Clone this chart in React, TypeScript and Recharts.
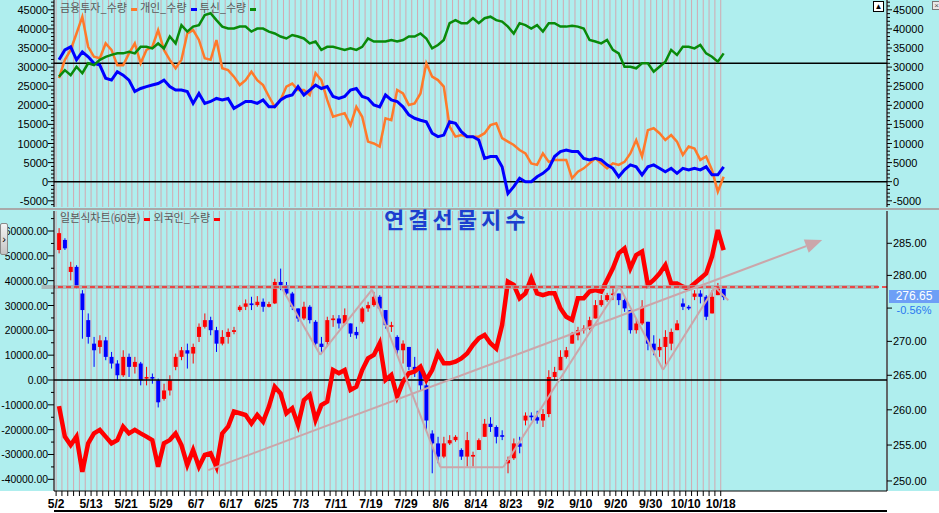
import React from "react";
import { ComposedChart, Line, Bar, XAxis, YAxis, CartesianGrid, ReferenceLine } from "recharts";

// trading days 2019-05-02 .. 2019-10-18
const dates = [
  "5/2", "5/3", "5/7", "5/8", "5/9", "5/10", "5/13", "5/14", "5/15", "5/16", "5/17", "5/20", "5/21", "5/22", "5/23", "5/24", "5/27", "5/28", "5/29", "5/30", "5/31",
  "6/3", "6/4", "6/5", "6/7", "6/10", "6/11", "6/12", "6/13", "6/14", "6/17", "6/18", "6/19", "6/20", "6/21", "6/24", "6/25", "6/26", "6/27", "6/28",
  "7/1", "7/2", "7/3", "7/4", "7/5", "7/8", "7/9", "7/10", "7/11", "7/12", "7/15", "7/16", "7/17", "7/18", "7/19", "7/22", "7/23", "7/24", "7/25", "7/26", "7/29", "7/30", "7/31",
  "8/1", "8/2", "8/5", "8/6", "8/7", "8/8", "8/9", "8/12", "8/13", "8/14", "8/16", "8/19", "8/20", "8/21", "8/22", "8/23", "8/26", "8/27", "8/28", "8/29", "8/30",
  "9/2", "9/3", "9/4", "9/5", "9/6", "9/9", "9/10", "9/11", "9/16", "9/17", "9/18", "9/19", "9/20", "9/23", "9/24", "9/25", "9/26", "9/27", "9/30",
  "10/1", "10/2", "10/4", "10/7", "10/8", "10/10", "10/11", "10/14", "10/15", "10/16", "10/17", "10/18",
];

// 금융투자_수량
const finInvQty = [
  27100, 31900, 34500, 38800, 43200, 35300, 32700, 32300, 36200, 34500,
  30500, 30500, 33600, 36200, 31000, 34500, 35300, 39700, 34500, 31900,
  29700, 31900, 38800, 39700, 37100, 32300, 31900, 37100, 29700, 29200,
  27500, 25300, 26600, 28800, 26600, 25300, 22300, 19600, 21400, 24900,
  25700, 24000, 24000, 22700, 28400, 26600, 21400, 17000, 17500, 17900,
  14800, 19600, 17000, 10500, 10000, 9200, 16600, 16100, 24000, 23100,
  20100, 20500, 23100, 31000, 27500, 26600, 24900, 14400, 11800, 12200,
  11800, 11800, 11800, 12700, 14800, 15300, 11400, 10500, 9600, 8300,
  7400, 4800, 4400, 7400, 5200, 5700, 5700, 5700, 900, 2600,
  3500, 4800, 6100, 4800, 3500, 4800, 4400, 5200, 7400, 10900,
  6600, 13500, 14000, 12700, 10900, 12200, 10500, 7000, 9200, 8700,
  5700, 6600, 3100, -2600, 1300,
];

// 개인_수량
const indivQty = [
  31900, 34500, 35300, 31900, 34000, 32700, 31000, 30500, 27100, 26600,
  28800, 27900, 26600, 23600, 24400, 24900, 25300, 25700, 26600, 24900,
  24000, 24000, 23600, 20500, 23100, 20500, 21000, 21800, 21400, 21800,
  19200, 20100, 21000, 21000, 20500, 21400, 19600, 19600, 21400, 22300,
  22700, 24900, 22700, 24000, 25300, 24400, 24900, 22300, 21800, 22300,
  24000, 24400, 22300, 21800, 20100, 19600, 22700, 21400, 21000, 19600,
  17500, 16600, 16100, 15700, 12700, 11800, 12200, 15700, 15300, 13100,
  11800, 11800, 10900, 6100, 6600, 6600, 3900, -3100, -1300, 900,
  0, 0, 1300, 2200, 3500, 6600, 7900, 8300, 7900, 7900,
  6100, 5700, 6100, 5700, 4400, 3500, 1300, 3100, 4400, 3900,
  1800, 3900, 4400, 3500, 2600, 3500, 2200, 3500, 3100, 3500,
  3100, 3900, 1800, 1800, 3900,
];

// 투신_수량
const trustQty = [
  27500, 29200, 27900, 30100, 28400, 31000, 30500, 31900, 32700, 33200,
  33600, 33600, 34000, 33600, 35300, 35300, 34900, 36200, 34900, 38000,
  36200, 41000, 39300, 40600, 41000, 43600, 44100, 42300, 40600, 40100,
  40100, 40600, 40600, 39300, 40100, 40100, 39300, 38800, 38000, 37500,
  38400, 38000, 37500, 36200, 36700, 34500, 35300, 35300, 34900, 34500,
  34900, 34500, 35300, 37500, 36700, 36700, 36700, 37100, 36700, 37100,
  38000, 38000, 38800, 37500, 34900, 35800, 37100, 41500, 42300, 41500,
  41500, 42800, 41500, 42800, 43200, 42300, 41900, 40600, 38800, 41500,
  41000, 40100, 41000, 39300, 41500, 41500, 40600, 40600, 40800, 40600,
  40100, 37100, 36700, 36200, 37100, 34500, 33600, 30100, 30100, 29700,
  31000, 31000, 28800, 30100, 31400, 34500, 33200, 35300, 35300, 34900,
  35800, 33600, 32700, 31400, 33600,
];

// 외국인_수량
const foreignQty = [
  -10500, -22800, -26200, -22800, -37000, -25500, -21500, -20100, -22800, -25500,
  -24200, -18800, -21500, -20100, -21500, -22800, -24200, -34900, -25500, -24200,
  -21500, -26200, -34200, -28200, -34900, -30200, -29500, -34900, -21500, -18800,
  -12700, -13400, -14100, -17500, -14100, -16800, -10700, -2700, -5400, -13400,
  -11400, -18100, -8100, -6000, -16100, -10100, -8700, 4000, 2700, 4000,
  -4000, -2700, 4000, 8700, 10100, 14800, 0, 2000, -6700, -700,
  2700, 3400, 5400, 0, 4000, 10700, 6700, 6700, 7400, 8700,
  10700, 14100, 16800, 18100, 14800, 12700, 22100, 39600, 38300, 32900,
  34900, 40900, 34900, 34200, 34900, 34900, 28900, 25500, 24200, 32900,
  32900, 35600, 36200, 35600, 40300, 45000, 51000, 53000, 45000, 50300,
  51700, 38300, 40300, 42900, 46300, 38900, 38900, 37600, 36900, 38900,
  40900, 42900, 49700, 60400, 52300,
];

// 연결선물 daily candles
const openPx = [
  283.95, 285.53, 280.53, 281.32, 277.22, 273.18, 269.66, 269.17, 270.15, 267.70,
  266.72, 265.00, 267.70, 266.23, 266.72, 264.51, 264.75, 264.26, 261.57, 262.79,
  266.23, 267.70, 268.68, 268.19, 270.66, 272.17, 273.18, 271.67, 269.66, 270.66,
  271.41, 274.70, 275.20, 275.71, 275.45, 275.96, 275.20, 275.71, 278.99, 278.48,
  277.22, 274.95, 273.43, 275.20, 272.93, 269.66, 269.90, 273.18, 273.43, 272.68,
  272.68, 271.41, 272.93, 274.95, 275.45, 276.72, 274.70, 272.17, 270.66, 268.68,
  269.17, 266.23, 265.74, 263.53, 256.62, 255.23, 253.38, 255.23, 255.69, 254.31,
  253.38, 253.38, 254.31, 256.16, 258.01, 257.55, 256.39, 252.45, 253.15, 255.23,
  258.47, 259.17, 258.94, 258.47, 259.40, 264.75, 265.74, 267.70, 269.66, 270.91,
  271.67, 271.92, 273.43, 275.45, 276.21, 276.97, 277.22, 276.21, 274.70, 271.67,
  272.68, 272.93, 269.66, 268.68, 269.17, 269.66, 271.67, 275.71, 275.20, 276.72,
  277.22, 276.72, 274.19, 276.97, 277.98,
];
const highPx = [
  287.39, 285.80, 282.11, 281.58, 277.73, 274.19, 270.66, 270.91, 270.66, 268.43,
  267.21, 268.68, 268.19, 267.70, 266.96, 266.23, 265.25, 264.51, 263.77, 265.00,
  268.19, 269.17, 269.66, 269.66, 272.68, 274.19, 273.69, 272.17, 271.67, 271.92,
  272.17, 275.45, 276.31, 276.72, 276.82, 276.46, 275.96, 279.49, 281.05, 278.99,
  277.47, 274.95, 275.96, 275.45, 273.18, 270.66, 273.69, 273.94, 273.94, 274.95,
  272.68, 272.17, 275.20, 275.96, 277.47, 276.97, 274.70, 272.93, 270.91, 270.15,
  269.17, 267.70, 265.74, 263.77, 257.08, 256.16, 256.16, 256.39, 256.39, 254.54,
  256.85, 254.07, 255.93, 258.70, 258.94, 257.78, 257.08, 253.38, 255.93, 256.16,
  259.63, 259.63, 259.86, 260.10, 265.74, 266.23, 268.68, 269.17, 271.41, 272.17,
  272.42, 273.69, 276.21, 276.97, 277.32, 278.33, 277.22, 276.46, 274.70, 273.43,
  276.21, 272.93, 270.91, 270.40, 271.67, 271.92, 273.18, 276.46, 275.45, 277.73,
  277.73, 276.97, 277.73, 278.84, 278.23,
];
const lowPx = [
  283.42, 283.95, 279.24, 277.98, 270.40, 269.66, 266.23, 268.19, 267.21, 265.98,
  264.26, 264.75, 264.75, 265.25, 263.53, 263.53, 263.77, 260.34, 261.32, 262.06,
  265.74, 267.21, 265.98, 266.72, 269.90, 271.92, 270.91, 268.43, 269.41, 269.66,
  271.06, 274.44, 274.70, 274.70, 275.20, 274.44, 275.10, 275.61, 277.73, 276.72,
  274.70, 272.93, 273.18, 272.68, 269.17, 268.19, 269.17, 272.17, 271.92, 272.42,
  270.66, 270.40, 272.68, 274.44, 275.20, 274.70, 271.92, 271.41, 267.94, 266.72,
  265.74, 264.75, 262.79, 257.08, 251.06, 252.45, 253.15, 255.00, 255.46, 252.92,
  251.99, 251.99, 254.31, 256.16, 256.85, 255.23, 255.69, 251.06, 252.92, 253.84,
  257.78, 258.47, 258.01, 257.55, 258.94, 264.26, 265.74, 267.45, 269.66, 270.15,
  271.16, 271.67, 273.43, 275.20, 275.96, 276.21, 275.45, 274.44, 271.16, 271.16,
  272.42, 268.68, 267.94, 267.70, 266.23, 268.68, 271.67, 274.70, 274.70, 276.21,
  275.71, 273.18, 274.19, 276.97, 276.21,
];
const closePx = [
  286.60, 284.21, 281.32, 278.23, 274.70, 270.66, 268.68, 270.15, 267.70, 266.72,
  265.00, 267.70, 266.23, 266.96, 264.26, 264.75, 264.51, 261.08, 262.79, 264.26,
  267.70, 268.68, 268.19, 269.17, 272.17, 273.18, 271.67, 269.66, 270.66, 271.41,
  271.67, 275.20, 275.71, 275.45, 275.96, 275.20, 275.61, 278.99, 278.48, 277.22,
  275.20, 273.43, 275.20, 273.18, 269.66, 269.17, 273.18, 273.43, 272.68, 273.94,
  271.16, 270.91, 274.95, 275.45, 276.72, 274.95, 272.42, 272.42, 268.68, 269.66,
  266.23, 265.74, 263.53, 258.47, 255.23, 253.38, 255.23, 255.69, 256.16, 253.38,
  255.69, 253.61, 255.69, 258.01, 257.55, 256.16, 256.16, 252.92, 255.23, 254.77,
  259.17, 258.94, 258.47, 259.40, 264.75, 265.49, 267.70, 268.68, 271.16, 271.67,
  271.92, 273.18, 275.45, 276.21, 276.97, 277.22, 276.21, 274.95, 271.67, 272.68,
  275.20, 269.66, 268.68, 269.17, 270.66, 271.41, 272.68, 275.20, 274.95, 277.22,
  276.72, 273.69, 276.72, 278.23, 276.65,
];

const prevClose = 278.21;
const lastPrice = "276.65";
const lastChange = "-0.56%";

// hand-drawn trend lines on the price panel (day index, price)
const zigzag = [
  { i: 38.3, p: 277.9 }, { i: 44.8, p: 268.0 }, { i: 53.7, p: 277.8 }, { i: 65.4, p: 251.9 },
  { i: 76.2, p: 251.9 }, { i: 96.1, p: 278.3 }, { i: 103.6, p: 265.8 }, { i: 112.5, p: 278.2 },
  { i: 114.8, p: 276.2 },
];
const arrowTrend = [{ i: 25.6, p: 251.5 }, { i: 130.9, p: 285.5 }];

const topMajor = [-5000, 0, 5000, 10000, 15000, 20000, 25000, 30000, 35000, 40000, 45000];
const frgMajor = [-40000, -30000, -20000, -10000, 0, 10000, 20000, 30000, 40000, 50000, 60000];
const pxTicks = [250, 255, 260, 265, 270, 275, 280, 285];

const topTicks: number[] = [];
for (let v = -6000; v <= 47000; v += 1000) topTicks.push(v);
const frgTicks: number[] = [];
for (let v = -40000; v <= 65000; v += 5000) frgTicks.push(v);
const dayTicks = dates.map((_, k) => k - 0.5);

const X_DOMAIN: [number, number] = [-0.86, 142.02];
const TOP_DOMAIN: [number, number] = [-6623, 47568];
const FRG_DOMAIN: [number, number] = [-44700, 68060];
const PX_DOMAIN: [number, number] = [248.62, 290.12];

const BG = "#afeeee";
const GRID = "#d2a9b1";
const TREND = "#cba6aa";
const AXIS_FONT = "'Liberation Sans', Arial, sans-serif";
const KR_FONT = "'Noto Sans CJK KR', 'Noto Sans', sans-serif";

const rows = dates.map((d, i) => ({
  i,
  date: d,
  fin: finInvQty[i],
  ind: indivQty[i],
  trust: trustQty[i],
  frg: foreignQty[i],
  range: [lowPx[i], highPx[i]],
  open: openPx[i],
  high: highPx[i],
  low: lowPx[i],
  close: closePx[i],
}));

function LeftTick(props: any) {
  const { x, y, payload, major, fmt, size } = props;
  const v = payload.value;
  const isMajor = major.includes(v);
  return (
    <g>
      <line x1={x - (isMajor ? 6 : 3)} x2={x} y1={y} y2={y} stroke="#000" />
      {isMajor && (
        <text x={x - 6} y={y + 4} textAnchor="end" fontSize={size || 11} fontFamily={AXIS_FONT} fill="#000">
          {fmt(v)}
        </text>
      )}
    </g>
  );
}

function RightTick(props: any) {
  const { x, y, payload, major, fmt, skip } = props;
  const v = payload.value;
  const isMajor = major.includes(v);
  return (
    <g>
      <line x1={x} x2={x + (isMajor ? 5 : 3)} y1={y} y2={y} stroke="#000" />
      {isMajor && !(skip || []).includes(v) && (
        <text x={x + 6} y={y + 4} textAnchor="start" fontSize={11} fontFamily={AXIS_FONT} fill="#000">
          {fmt(v)}
        </text>
      )}
    </g>
  );
}

function DateTick(props: any) {
  const { x, y, payload } = props;
  const k = Math.round(payload.value + 0.5);
  const label = k % 6 === 0 ? dates[k] : null;
  return (
    <g>
      <line x1={x} x2={x} y1={y} y2={y + 5} stroke="#000" />
      {label && (
        <text x={x} y={y + 17} textAnchor="middle" fontSize={12} fontWeight="bold" fontFamily={AXIS_FONT} fill="#000">
          {label}
        </text>
      )}
    </g>
  );
}

function Candle(props: any) {
  const { x, y, width, height, payload } = props;
  if (x == null || y == null || !payload) return null;
  const top = Math.min(y, y + height);
  const h = Math.abs(height);
  const lh = Math.log(payload.high);
  const span = lh - Math.log(payload.low);
  const at = (v: number) => (span > 0 ? top + ((lh - Math.log(v)) / span) * h : top);
  const up = payload.close >= payload.open;
  const c = up ? "#ff0000" : "#0000ff";
  const cx = x + width / 2;
  const b1 = at(Math.max(payload.open, payload.close));
  const b2 = at(Math.min(payload.open, payload.close));
  return (
    <g>
      <line x1={cx} x2={cx} y1={top} y2={top + h} stroke={c} strokeWidth={1} />
      <rect x={x} y={b1} width={width} height={Math.max(1, b2 - b1)} fill={c} />
    </g>
  );
}

function ArrowShape(props: any) {
  const { x1, y1, x2, y2 } = props;
  const a = Math.atan2(y2 - y1, x2 - x1);
  const len = 17;
  const half = 7;
  const bx = x2 - len * Math.cos(a);
  const by = y2 - len * Math.sin(a);
  const px = -Math.sin(a) * half;
  const py = Math.cos(a) * half;
  return (
    <g>
      <line x1={x1} y1={y1} x2={bx} y2={by} stroke={TREND} strokeWidth={2} />
      <polygon points={`${x2},${y2} ${bx + px},${by + py} ${bx - px},${by - py}`} fill={TREND} />
    </g>
  );
}

const legendDash = (color: string) => (
  <span style={{ display: "inline-block", width: 6, height: 3, background: color, margin: "0 3px 0 4px", verticalAlign: "middle" }} />
);

export default function App() {
  return (
    <div style={{ position: "fixed", left: 0, top: 0, width: 939, height: 513, background: BG, overflow: "hidden" }}>
      <div style={{ position: "absolute", left: 0, top: 491, width: 939, height: 22, background: "#fff" }} />
      <div style={{ position: "absolute", left: 0, top: 208, width: 939, height: 2, background: "#a9a9a9" }} />

      <div style={{ position: "absolute", left: 0, top: 0 }}>
        <ComposedChart width={939} height={207} data={rows} margin={{ top: 0, right: 0, bottom: 0, left: 0 }}>
          <CartesianGrid horizontal={false} stroke={GRID} />
          <XAxis dataKey="i" type="number" domain={X_DOMAIN} ticks={dayTicks} interval={0} hide allowDataOverflow />
          <YAxis
            domain={TOP_DOMAIN}
            ticks={topTicks}
            interval={0}
            width={54}
            allowDataOverflow
            tickSize={0}
            tickMargin={0}
            axisLine={{ stroke: "#000" }}
            tick={(p: any) => <LeftTick {...p} major={topMajor} fmt={(v: number) => String(v)} />}
          />
          <YAxis
            yAxisId="r"
            orientation="right"
            domain={TOP_DOMAIN}
            ticks={topTicks}
            interval={0}
            width={52}
            allowDataOverflow
            tickSize={0}
            tickMargin={0}
            axisLine={{ stroke: "#000" }}
            tick={(p: any) => <RightTick {...p} major={topMajor} fmt={(v: number) => String(v)} />}
          />
          <ReferenceLine y={0} stroke="#000" strokeWidth={1.5} />
          <ReferenceLine y={31000} stroke="#000" strokeWidth={1.5} />
          <Line dataKey="fin" stroke="#ff7a2a" strokeWidth={2.5} dot={false} isAnimationActive={false} />
          <Line dataKey="ind" stroke="#0000ff" strokeWidth={3} dot={false} isAnimationActive={false} />
          <Line dataKey="trust" stroke="#0a8a0a" strokeWidth={2.5} dot={false} isAnimationActive={false} />
        </ComposedChart>
      </div>

      <div style={{ position: "absolute", left: 0, top: 209 }}>
        <ComposedChart width={939} height={304} data={rows} margin={{ top: 2, right: 0, bottom: 0, left: 0 }}>
          <CartesianGrid horizontal={false} stroke={GRID} />
          <XAxis
            dataKey="i"
            type="number"
            domain={X_DOMAIN}
            ticks={dayTicks}
            interval={0}
            height={22}
            allowDataOverflow
            tickSize={0}
            tickMargin={0}
            axisLine={{ stroke: "#000" }}
            tick={(p: any) => <DateTick {...p} />}
          />
          <YAxis
            domain={FRG_DOMAIN}
            ticks={frgTicks}
            interval={0}
            width={54}
            allowDataOverflow
            tickSize={0}
            tickMargin={0}
            axisLine={{ stroke: "#000" }}
            tick={(p: any) => <LeftTick {...p} major={frgMajor} size={10.4} fmt={(v: number) => `${v}.00`} />}
          />
          <YAxis
            yAxisId="r"
            orientation="right"
            scale="log"
            domain={PX_DOMAIN}
            ticks={pxTicks}
            interval={0}
            width={52}
            allowDataOverflow
            tickSize={0}
            tickMargin={0}
            axisLine={{ stroke: "#000" }}
            tick={(p: any) => <RightTick {...p} major={pxTicks} skip={[275]} fmt={(v: number) => v.toFixed(2)} />}
          />
          <ReferenceLine y={0} stroke="#000" strokeWidth={1.5} />
          <Bar yAxisId="r" dataKey="range" barSize={4} isAnimationActive={false} shape={(p: any) => <Candle {...p} />} />
          <Line dataKey="frg" stroke="#ff0000" strokeWidth={4.5} dot={false} isAnimationActive={false} />
          <ReferenceLine
            yAxisId="r"
            ifOverflow="visible"
            segment={[{ x: -3, y: prevClose }, { x: 140.5, y: prevClose }]}
            stroke="#a8a8a8"
            strokeOpacity={0.75}
            strokeWidth={4}
          />
          <ReferenceLine yAxisId="r" y={prevClose} stroke="#ff2020" strokeWidth={1.5} strokeDasharray="5 3" />
          {zigzag.slice(1).map((pt, k) => (
            <ReferenceLine
              key={k}
              yAxisId="r"
              ifOverflow="visible"
              segment={[{ x: zigzag[k].i, y: zigzag[k].p }, { x: pt.i, y: pt.p }]}
              stroke={TREND}
              strokeWidth={2}
            />
          ))}
          <ReferenceLine
            yAxisId="r"
            ifOverflow="visible"
            segment={[{ x: arrowTrend[0].i, y: arrowTrend[0].p }, { x: arrowTrend[1].i, y: arrowTrend[1].p }]}
            shape={(p: any) => <ArrowShape {...p} />}
          />
        </ComposedChart>
      </div>

      <div style={{ position: "absolute", left: 54, top: 510, width: 833, height: 2, background: "#000" }} />

      <div style={{ position: "absolute", left: 60, top: 0, lineHeight: "14px", fontSize: 11, fontFamily: KR_FONT, color: "#5a5a5a", whiteSpace: "nowrap" }}>
        금융투자_수량{legendDash("#ff7a2a")}개인_수량{legendDash("#0000ff")}투신_수량{legendDash("#0a8a0a")}
      </div>
      <div style={{ position: "absolute", left: 60, top: 210, lineHeight: "14px", fontSize: 11, fontFamily: KR_FONT, color: "#5a5a5a", whiteSpace: "nowrap" }}>
        일본식차트(60분){legendDash("#ff0000")}외국인_수량{legendDash("#ff0000")}
      </div>
      <div style={{ position: "absolute", left: 384, top: 205, lineHeight: "27px", fontSize: 22, fontWeight: "bold", letterSpacing: 4, fontFamily: KR_FONT, color: "#1c3fcf", whiteSpace: "nowrap" }}>
        연결선물지수
      </div>

      <div style={{ position: "absolute", left: 889, top: 290, width: 50, height: 13, background: "#6d9ff6", color: "#fff", fontSize: 12, lineHeight: "13px", fontFamily: AXIS_FONT, textAlign: "center" }}>
        {lastPrice}
      </div>
      <div style={{ position: "absolute", left: 889, top: 304, width: 50, color: "#2a78f0", fontSize: 11, lineHeight: "13px", fontFamily: AXIS_FONT, textAlign: "center" }}>
        {lastChange}
      </div>

      <div style={{ position: "absolute", left: 0, top: 223, width: 6, height: 30, background: "linear-gradient(#f4f4f4, #c4c4c4)", border: "1px solid #8a8a8a", borderRadius: 2, fontSize: 11, lineHeight: "30px", textAlign: "center", fontFamily: AXIS_FONT, color: "#000" }}>
        ›
      </div>
      <div style={{ position: "absolute", left: 873, top: 1, width: 9, height: 9, background: "#fff", border: "1px solid #000", fontSize: 8, lineHeight: "9px", textAlign: "center", fontFamily: AXIS_FONT, color: "#000" }}>
        ▲
      </div>
      <div style={{ position: "absolute", left: 932, top: 1, width: 7, height: 7, background: "#e8e8e8", border: "1px solid #777", fontSize: 8, lineHeight: "7px", textAlign: "center", fontFamily: AXIS_FONT, color: "#555" }}>
        ×
      </div>
    </div>
  );
}
